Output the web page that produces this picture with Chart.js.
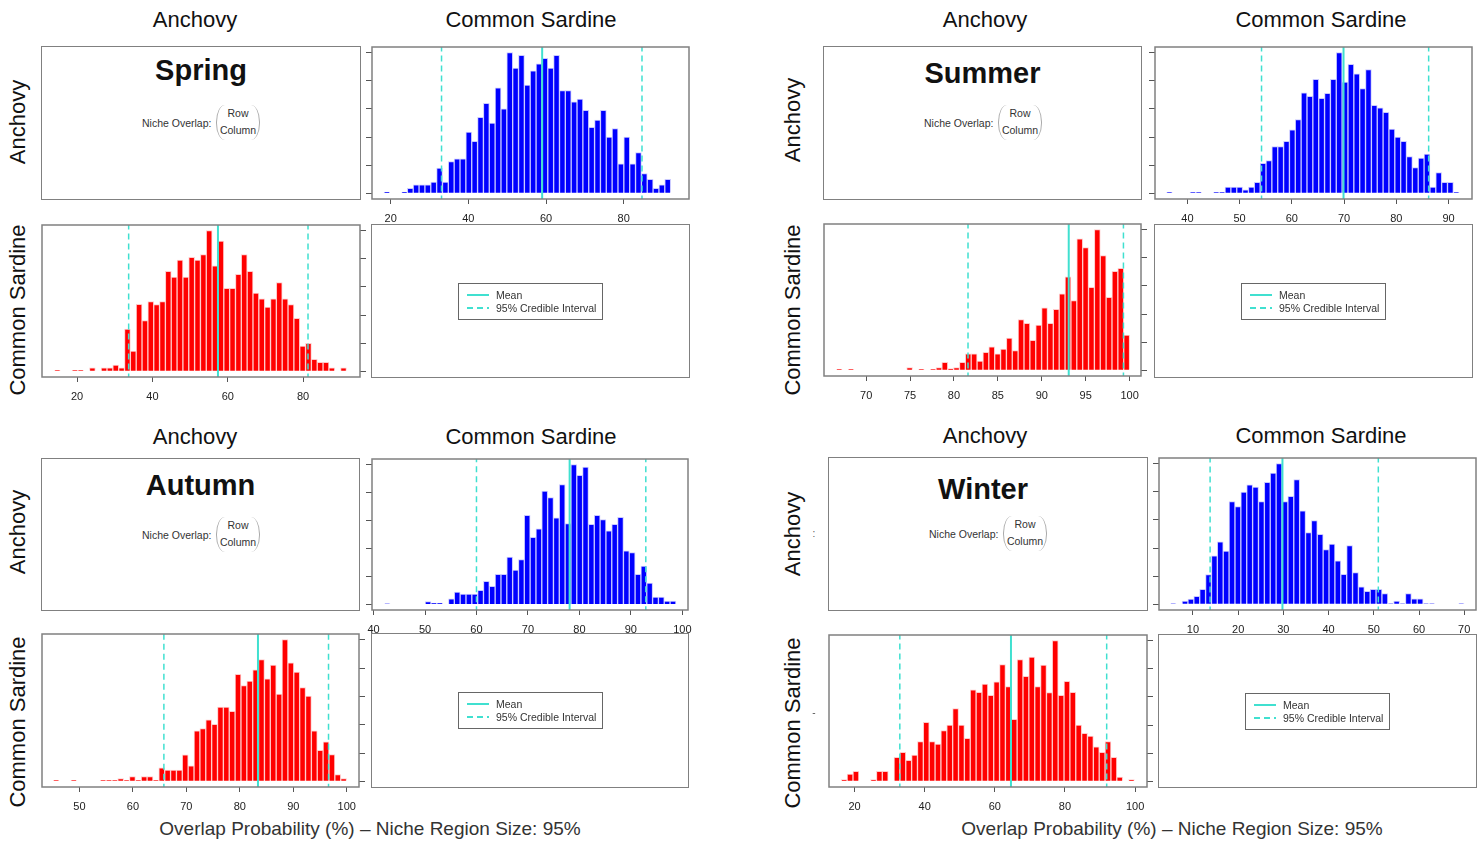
<!DOCTYPE html>
<html>
<head>
<meta charset="utf-8">
<title>Niche overlap by season</title>
<script src="https://cdn.jsdelivr.net/npm/chart.js@4.4.1/dist/chart.umd.min.js"></script>
<style>
  body { margin: 0; background: #fff; font-family: "Liberation Sans", Arial, sans-serif; color: #111; }
  #page { position: relative; width: 1481px; height: 844px; overflow: hidden; }
  .hdr { position: absolute; font-size: 22px; white-space: nowrap; transform: translate(-50%, -50%); }
  .rowlab { position: absolute; font-size: 22px; white-space: nowrap; transform: translate(-50%, -50%) rotate(-90deg); }
  .xlab { position: absolute; font-size: 19px; color: #333; white-space: nowrap; transform: translate(-50%, -50%); }
  .mark { position: absolute; font-size: 10px; color: #555; transform: translate(-50%, -50%); }
  .box { position: absolute; border: 1.5px solid #808080; box-sizing: border-box; }
  .season { position: absolute; left: 0; width: 100%; text-align: center; font-weight: bold; font-size: 29px; line-height: 34px; }
  .niche { position: absolute; font-size: 10.5px; color: #333; white-space: nowrap; line-height: 12px; }
  .brk { position: absolute; width: 44px; height: 35px; box-sizing: border-box;
         border-left: 1px solid #aaa; border-right: 1px solid #aaa; border-radius: 9px / 17px;
         font-size: 10.5px; color: #333; text-align: center; line-height: 17px; }
  .legend { position: absolute; width: 145px; height: 37px; border: 1px solid #666; box-sizing: border-box; font-size: 10.5px; color: #333; }
  .legend .sw { position: absolute; left: 8px; width: 22px; height: 2px; }
  .legend .lt { position: absolute; left: 37px; line-height: 12px; white-space: nowrap; }
  canvas { position: absolute; }
</style>
</head>
<body>
<div id="page"></div>
<script>
// ---- data (relative counts, tallest bar = 100) ----
const seasons = ['Spring', 'Summer', 'Autumn', 'Winter'];
const species = ['Anchovy', 'Common Sardine'];
const yTicks = [0, 20, 40, 60, 80, 100];

// [first bin edge, bin width]
const springBlueBin = [18.28, 1.506];
const springBlueCounts = [1, 0, 0, 1, 3.5, 6, 6, 6, 8, 18, 8, 22.5, 24.6, 24.6, 43.6, 37, 54, 64, 50, 75,
  60, 100, 89, 98, 77, 87, 92, 96, 89, 98, 73, 73, 65, 67, 59, 47, 52, 59, 40, 46,
  21, 40, 21, 29, 14, 10, 3.5, 6, 10];
const springBlueLines = [33.1, 59.0, 84.7];   // lower CI, mean, upper CI
const springBlueTicks = [20, 40, 60, 80];
const springBlueRange = [15.2, 96.8];

const springRedBin = [14.0, 1.55];
const springRedCounts = [0.7, 0, 0, 0.7, 0.7, 0, 2.6, 0, 2.6, 2.6, 4.5, 2.6, 30, 14.4, 47.7, 36, 49.6, 47.5, 49.6, 71,
  67, 79, 67, 81, 79, 83, 100, 75, 92.6, 59, 59, 69, 83, 71, 55.6, 51.6, 45.6, 51.6, 63, 51.6,
  47.5, 37.6, 18, 20, 8.6, 6.5, 6.5, 2.6, 0, 2.6];
const springRedLines = [33.7, 57.4, 81.3];
const springRedTicks = [20, 40, 60, 80];
const springRedRange = [10.7, 95.1];

const summerBlueBin = [36.0, 1.121];
const summerBlueCounts = [0.7, 0, 0, 0, 0.7, 0.7, 0, 0, 0.7, 0.7, 4.5, 4.5, 4.5, 2.6, 4.5, 7.9, 21.4, 23.3, 33.3, 33.3,
  36.9, 45.2, 52.4, 71.4, 69, 81, 67.6, 71, 81, 100, 79, 91.7, 85, 74.5, 88, 62.6, 60.7, 57.6, 45.7, 40,
  36.9, 26.2, 18.3, 25, 28, 4.5, 14.8, 7.9, 7.9, 0.7];
const summerBlueLines = [54.2, 69.9, 86.2];
const summerBlueTicks = [40, 50, 60, 70, 80, 90];
const summerBlueRange = [33.8, 94.5];

const summerRedBin = [66.6, 0.668];
const summerRedCounts = [0.7, 0, 0.7, 0, 0, 0, 0, 0, 0, 0, 0, 0, 1.9, 0, 0.7, 0, 0.7, 1.9, 5.7, 1.2,
  1.9, 5.7, 11.8, 11.8, 6.6, 12.8, 16.8, 11.8, 15.2, 23, 14, 36, 33.4, 21.3, 32.2, 44.5, 33.4, 43.4, 54.3, 66.4,
  49.5, 93.4, 87.2, 59, 100, 81.5, 51.9, 70.4, 72.5, 25];
const summerRedLines = [81.6, 93.07, 99.3];
const summerRedTicks = [70, 75, 80, 85, 90, 95, 100];
const summerRedRange = [65.2, 101.3];

const autumnBlueBin = [42.1, 1.133];
const autumnBlueCounts = [0.5, 0, 0, 0, 0, 0, 0, 2.1, 1, 1, 0, 4, 8.8, 7.4, 7.4, 7.4, 10, 16.5, 13, 21.5,
  21.5, 33.9, 24.6, 32, 63.7, 48, 54, 81, 76.4, 62, 85.7, 57.8, 100, 92.4, 98.3, 57.3, 63.7, 60.6, 52.7, 57.3,
  62.3, 38.4, 37, 21.5, 27.4, 15.3, 5.3, 5.3, 2.4, 2.4];
const autumnBlueLines = [60.0, 78.1, 92.9];
const autumnBlueTicks = [40, 50, 60, 70, 80, 90, 100];
const autumnBlueRange = [39.7, 101.1];

const autumnRedBin = [45.1, 1.0975];
const autumnRedCounts = [0.7, 0, 0, 0.7, 0, 0, 0, 0, 0.7, 0.7, 0.7, 1.9, 0.7, 3.4, 0.7, 3.4, 3.4, 0.7, 9.6, 7.9,
  7.9, 7.9, 18.7, 11, 35.7, 37.2, 43.4, 40.3, 52.5, 52.5, 49.4, 75.5, 67.6, 70.7, 78.7, 86, 72.4, 82, 61.6, 100,
  83.7, 77.2, 66.2, 60.2, 35.7, 21.8, 27.8, 18.9, 4.8, 1.9];
const autumnRedLines = [65.8, 83.4, 96.6];
const autumnRedTicks = [50, 60, 70, 80, 90, 100];
const autumnRedRange = [43.0, 102.3];

const winterBlueBin = [5.0, 1.30];
const winterBlueCounts = [0.5, 0, 2.4, 3.8, 5.7, 10.7, 21.2, 34.5, 44.5, 37.9, 73, 69.5, 79.8, 85, 83.3, 73, 86.7, 93.3, 100, 73,
  76.7, 88.6, 66.4, 51, 59.5, 49.8, 39, 42.9, 31, 21.4, 41.7, 22.6, 12.4, 9.3, 10.7, 10.7, 7.6, 0.5, 2.4, 0.5,
  7.6, 4, 4, 0.5, 0.5, 0, 0, 0, 0, 0.5];
const winterBlueLines = [13.8, 29.8, 51.0];
const winterBlueTicks = [10, 20, 30, 40, 50, 60, 70];
const winterBlueRange = [2.5, 72.6];

const winterRedBin = [16.2, 1.672];
const winterRedCounts = [1.2, 5.2, 7.1, 0, 0, 1.2, 7.1, 7.1, 0, 17, 20.6, 15, 18.7, 28.2, 42, 28.2, 26.5, 36, 40, 51.7,
  40, 30.6, 65, 63.3, 69.2, 61.1, 70.8, 83, 67.3, 44, 86.5, 74.6, 88.4, 67.3, 82.7, 63, 100, 61.1, 71, 63.3,
  40, 34.1, 32.2, 24.6, 20.6, 28.2, 17, 3.1, 0, 1.2];
const winterRedLines = [32.9, 64.6, 91.9];
const winterRedTicks = [20, 40, 60, 80, 100];
const winterRedRange = [12.7, 103.4];

// ---- drawing ----
const FONT = '"Liberation Sans", Arial, sans-serif';
const TURQ = '#40E0D0';
Chart.defaults.font.family = FONT;
const page = document.getElementById('page');

// grey frame round the plot area, like R's box()
const boxPlugin = {
  id: 'frame',
  afterDraw(chart) {
    const a = chart.chartArea, c = chart.ctx;
    c.save();
    c.strokeStyle = '#808080';
    c.lineWidth = 1.5;
    c.strokeRect(a.left, a.top, a.right - a.left, a.bottom - a.top);
    c.restore();
  }
};

function el(cls, x, y, txt) {
  const d = document.createElement('div');
  d.className = cls;
  d.style.left = x + 'px';
  d.style.top = y + 'px';
  if (txt !== undefined) d.textContent = txt;
  page.appendChild(d);
  return d;
}

function vline(x, dashed, width) {
  return {
    type: 'line', data: [{x: x, y: -20}, {x: x, y: 130}],
    borderColor: TURQ, borderWidth: width, borderDash: dashed ? [6, 4] : [],
    pointRadius: 0, fill: false, order: 1
  };
}

function histogram(box, bin, counts, lines, ticks, range, fill, edge, side) {
  const [L, T, R, B] = box;
  const yW = 8, xH = 30, p = 2, extra = 12;   // extra room so edge tick labels are not cut
  const pl = side === 'left' ? 0 : p + extra;
  const pr = side === 'left' ? p + extra : 0;
  const cv = document.createElement('canvas');
  const w = (R - L) + yW + pl + pr, h = (B - T) + p + xH;
  cv.width = w; cv.height = h;
  cv.style.width = w + 'px'; cv.style.height = h + 'px';
  cv.style.left = (side === 'left' ? L - yW : L - pl) + 'px';
  cv.style.top = (T - p) + 'px';
  page.appendChild(cv);

  const bars = counts.map((c, k) => ({x: bin[0] + (k + 0.5) * bin[1], y: c}));

  new Chart(cv.getContext('2d'), {
    type: 'bar',
    data: {
      datasets: [
        vline(lines[1], false, 2),
        vline(lines[0], true, 1.5),
        vline(lines[2], true, 1.5),
        {
          type: 'bar', data: bars, backgroundColor: fill, borderColor: edge, borderWidth: 1,
          barPercentage: 1, categoryPercentage: 1, order: 2
        }
      ]
    },
    options: {
      responsive: false,
      animation: false,
      events: [],
      layout: { padding: {left: pl, right: pr, top: p, bottom: 0} },
      plugins: { legend: { display: false }, tooltip: { enabled: false } },
      scales: {
        x: {
          type: 'linear', min: range[0], max: range[1], offset: false,
          afterBuildTicks: s => { s.ticks = ticks.map(v => ({value: v})); },
          afterFit: s => { s.height = xH; s.paddingLeft = 0; s.paddingRight = 0; },
          grid: { drawOnChartArea: false, drawTicks: true, tickLength: 5, color: '#555', offset: false },
          border: { display: false },
          ticks: { font: { size: 11 }, color: '#222', padding: 8, maxRotation: 0, autoSkip: false }
        },
        y: {
          type: 'linear', position: side, min: -4, max: 104,
          afterBuildTicks: s => { s.ticks = yTicks.map(v => ({value: v})); },
          afterFit: s => { s.width = yW; },
          grid: { drawOnChartArea: false, drawTicks: true, tickLength: 6, color: '#555' },
          border: { display: false },
          ticks: { display: false }
        }
      }
    },
    plugins: [boxPlugin]
  });
}

function textBox(box, season, titleDy, titleDx) {
  const [L, T, R, B] = box;
  const d = el('box', L - 1, T - 1);
  d.style.width = (R - L + 2) + 'px';
  d.style.height = (B - T + 2) + 'px';
  const t = document.createElement('div');
  t.className = 'season';
  t.style.top = (titleDy - 17) + 'px';
  t.style.left = titleDx + 'px';
  t.textContent = season;
  d.appendChild(t);
  const n = document.createElement('div');
  n.className = 'niche';
  n.style.left = '100px'; n.style.top = '70px';
  n.textContent = 'Niche Overlap:';
  d.appendChild(n);
  const b = document.createElement('div');
  b.className = 'brk';
  b.style.left = '174px'; b.style.top = '58px';
  b.innerHTML = '<div>Row</div><div>Column</div>';
  d.appendChild(b);
}

function legendBox(box) {
  const [L, T, R, B] = box;
  const d = el('box', L - 1, T - 1);
  d.style.width = (R - L + 2) + 'px';
  d.style.height = (B - T + 2) + 'px';
  const g = document.createElement('div');
  g.className = 'legend';
  g.style.left = '86px'; g.style.top = '58px';
  g.innerHTML =
    '<div class="sw" style="top:10px;background:' + TURQ + '"></div>' +
    '<div class="lt" style="top:5px">Mean</div>' +
    '<div class="sw" style="top:23px;background:repeating-linear-gradient(90deg,' + TURQ + ' 0 6px,transparent 6px 10px)"></div>' +
    '<div class="lt" style="top:18px">95% Credible Interval</div>';
  d.appendChild(g);
}

function group(o) {
  el('hdr', o.headX[0], o.headY, species[0]);
  el('hdr', o.headX[1], o.headY, species[1]);
  el('rowlab', o.rowX, o.rowY[0], species[0]);
  el('rowlab', o.rowX, o.rowY[1], species[1]);
  textBox(o.tl, o.season, o.titleDy, o.titleDx);
  histogram(o.tr, o.blue[0], o.blue[1], o.blue[2], o.blue[3], o.blue[4], '#0000FF', '#c9c9ff', 'left');
  histogram(o.bl, o.red[0], o.red[1], o.red[2], o.red[3], o.red[4], '#FF0000', '#ffcaca', 'right');
  legendBox(o.br);
}

group({
  season: seasons[0], headY: 20, headX: [195, 531], rowX: 18, rowY: [122, 310], titleDy: 23, titleDx: 0,
  tl: [42, 47, 360, 199], tr: [372, 47, 689, 199], bl: [42, 225, 360, 377], br: [372, 225, 689, 377],
  blue: [springBlueBin, springBlueCounts, springBlueLines, springBlueTicks, springBlueRange],
  red: [springRedBin, springRedCounts, springRedLines, springRedTicks, springRedRange]
});
group({
  season: seasons[1], headY: 20, headX: [985, 1321], rowX: 793, rowY: [120, 310], titleDy: 26, titleDx: 0,
  tl: [824, 47, 1141, 199], tr: [1155, 47, 1472, 199], bl: [824, 224, 1141, 376], br: [1155, 225, 1472, 377],
  blue: [summerBlueBin, summerBlueCounts, summerBlueLines, summerBlueTicks, summerBlueRange],
  red: [summerRedBin, summerRedCounts, summerRedLines, summerRedTicks, summerRedRange]
});
group({
  season: seasons[2], headY: 437, headX: [195, 531], rowX: 18, rowY: [532, 722], titleDy: 26, titleDx: 0,
  tl: [42, 459, 359, 610], tr: [372, 459, 688, 610], bl: [42, 634, 359, 787], br: [372, 634, 688, 787],
  blue: [autumnBlueBin, autumnBlueCounts, autumnBlueLines, autumnBlueTicks, autumnBlueRange],
  red: [autumnRedBin, autumnRedCounts, autumnRedLines, autumnRedTicks, autumnRedRange]
});
group({
  season: seasons[3], headY: 436, headX: [985, 1321], rowX: 793, rowY: [534, 723], titleDy: 31, titleDx: -5,
  tl: [829, 458, 1147, 610], tr: [1159, 458, 1476, 610], bl: [829, 635, 1147, 787], br: [1159, 635, 1476, 787],
  blue: [winterBlueBin, winterBlueCounts, winterBlueLines, winterBlueTicks, winterBlueRange],
  red: [winterRedBin, winterRedCounts, winterRedLines, winterRedTicks, winterRedRange]
});

// stray marks next to the winter row labels in the original
el('mark', 814, 533, ':');
el('mark', 814, 712, '-');

el('xlab', 370, 829, 'Overlap  Probability (%) \u2013 Niche Region Size: 95%');
el('xlab', 1172, 829, 'Overlap  Probability (%) \u2013 Niche Region Size: 95%');
</script>
</body>
</html>
